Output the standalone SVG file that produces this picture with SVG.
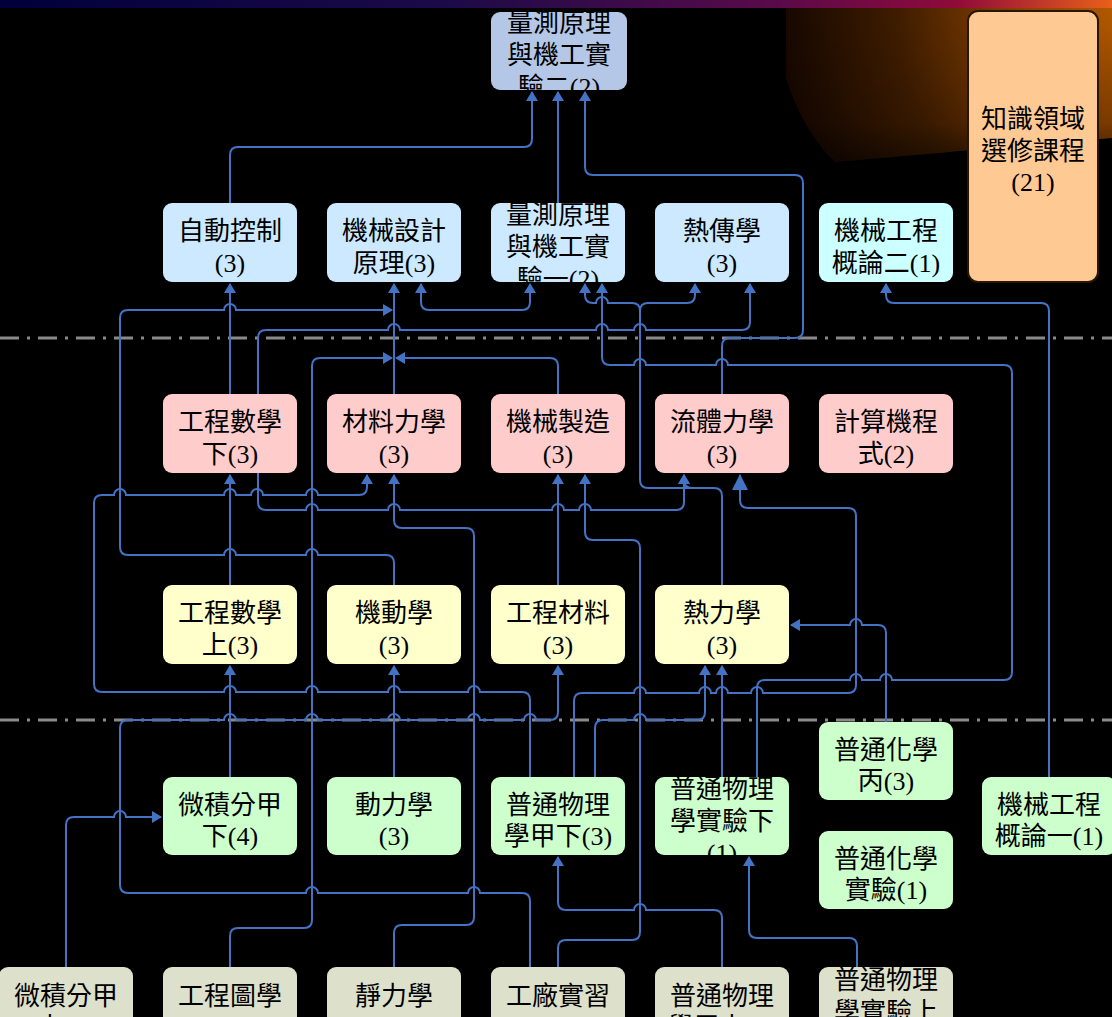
<svg xmlns="http://www.w3.org/2000/svg" width="1112" height="1017" viewBox="0 0 1112 1017">
<defs>
<linearGradient id="band" x1="0" y1="0" x2="1" y2="0">
<stop offset="0" stop-color="#00003a"/>
<stop offset="0.4" stop-color="#1c0a48"/>
<stop offset="0.7" stop-color="#5a0a4a"/>
<stop offset="0.86" stop-color="#900a3a"/>
<stop offset="1" stop-color="#e8601a"/>
</linearGradient>
<radialGradient id="glow" gradientUnits="userSpaceOnUse" cx="1130" cy="10" r="360">
<stop offset="0" stop-color="#b85c00"/>
<stop offset="0.3" stop-color="#8a4200"/>
<stop offset="0.65" stop-color="#3e1c00"/>
<stop offset="1" stop-color="#120500"/>
</radialGradient>
<linearGradient id="fade" x1="0" y1="0" x2="0" y2="1">
<stop offset="0" stop-color="#000" stop-opacity="0"/>
<stop offset="0.75" stop-color="#000" stop-opacity="0.1"/>
<stop offset="1" stop-color="#000" stop-opacity="0.45"/>
</linearGradient>
<marker id="ar" viewBox="0 0 10 12" markerWidth="10" markerHeight="12" refX="9" refY="6" orient="auto-start-reverse" markerUnits="userSpaceOnUse"><path d="M0,0 L10,6 L0,12 z" fill="#4472c4"/></marker>
<marker id="big" viewBox="0 0 16 16" markerWidth="16" markerHeight="16" refX="15" refY="8" orient="auto" markerUnits="userSpaceOnUse"><path d="M0,0 L16,8 L0,16 z" fill="#4472c4"/></marker>
<clipPath id="k-q2"><rect x="491" y="12" width="136" height="78" rx="9"/></clipPath>
<clipPath id="k-q1"><rect x="491" y="203" width="134" height="79" rx="9"/></clipPath>
<clipPath id="k-pl2"><rect x="655" y="777" width="134" height="78" rx="9"/></clipPath>
<clipPath id="k-pl1"><rect x="819" y="967" width="134" height="80" rx="9"/></clipPath>
<style>
.n rect{stroke:none}
.n text{font-family:"Liberation Serif","Noto Sans CJK TC",serif;font-size:26px;text-anchor:middle;fill:#000}
.c path{fill:none;stroke:#4472c4;stroke-width:2;marker-end:url(#ar)}
.c path.bg{marker-end:url(#big)}
.c path.both{marker-start:url(#ar)}
.dv{stroke:#8a8a8a;stroke-width:3;stroke-dasharray:19 8 3 8}
.r1{fill:#cce9ff}.r2{fill:#ffcccc}.r3{fill:#ffffcc}.r4{fill:#ccffcc}.r5{fill:#dde0cb}
</style>
</defs>
<rect x="0" y="0" width="1112" height="1017" fill="#000"/>
<path d="M786,8 H1112 V138 C1010,146 910,156 835,162 C812,140 796,110 786,78 Z" fill="url(#glow)"/>
<path d="M786,8 H1112 V138 C1010,146 910,156 835,162 C812,140 796,110 786,78 Z" fill="url(#fade)"/>
<rect x="0" y="0" width="1112" height="8" fill="url(#band)"/>
<line class="dv" x1="0" y1="338" x2="1112" y2="338"/>
<line class="dv" x1="0" y1="720" x2="1112" y2="720"/>

<g id="connectors" class="c">
<path d="M230,203 V155 Q230,147 238,147 H524 Q532,147 532,139 V92"/>
<path d="M558,203 V92"/>
<path d="M722,394 V346 Q722,338 730,338 H795 Q803,338 803,330 V183 Q803,175 795,175 H593 Q585,175 585,167 V92"/>
<path d="M230,394 V284"/>
<path d="M394,394 V284"/>
<path class="both" d="M421,284 V302 Q421,310 429,310 H522 Q530,310 530,302 V284"/>
<path d="M394,585 V563 Q394,555 386,555 H318 A6,6 0 0 0 306,555 H236 A6,6 0 0 0 224,555 H128 Q120,555 120,547 V318 Q120,310 128,310 H224 A6,6 0 0 1 236,310 H392"/>
<path d="M558,394 V366 Q558,358 550,358 H396"/>
<path d="M230,967 V936 Q230,928 238,928 H304 Q312,928 312,920 V366 Q312,358 320,358 H392"/>
<path d="M258,394 V338 Q258,330 266,330 H388 A6,6 0 0 1 400,330 H596 A6,6 0 0 1 608,330 H634 A6,6 0 0 1 646,330 H742 Q750,330 750,322 V284"/>
<path d="M722,585 V496 Q722,488 714,488 H692 Q684,488 684,480 V475"/>
<path d="M700,488 H648 Q640,488 640,480 V311 Q640,303 632,303 H608 A6,6 0 0 0 596,303 H593 Q585,303 585,295 V284"/>
<path d="M640,318 V311 Q640,303 648,303 H687 Q695,303 695,295 V284"/>
<path d="M258,473 V502 Q258,510 266,510 H306 A6,6 0 0 1 318,510 H388 A6,6 0 0 1 400,510 H552 A6,6 0 0 1 564,510 H579 A6,6 0 0 1 591,510 H676 Q684,510 684,502 V475"/>
<path class="bg" d="M574,777 V701 Q574,693 582,693 H634 A6,6 0 0 1 646,693 H699 A6,6 0 0 1 711,693 H716 A6,6 0 0 1 728,693 H751 A6,6 0 0 1 763,693 H848 Q856,693 856,685 V516 Q856,508 848,508 H748 Q740,508 740,500 V475"/>
<path d="M595,777 V728 Q595,720 603,720 H634 A6,6 0 0 1 646,720 H697 Q705,720 705,712 V666"/>
<path d="M530,777 V700 Q530,692 522,692 H480 A6,6 0 0 0 468,692 H400 A6,6 0 0 0 388,692 H318 A6,6 0 0 0 306,692 H236 A6,6 0 0 0 224,692 H102 Q94,692 94,684 V503 Q94,495 102,495 H114 A6,6 0 0 1 126,495 H224 A6,6 0 0 1 236,495 H251 A6,6 0 0 1 263,495 H306 A6,6 0 0 1 318,495 H359 Q367,495 367,487 V475"/>
<path d="M722,777 V666"/>
<path d="M757,777 V688 Q757,680 765,680 H850 A6,6 0 0 1 862,680 H880 A6,6 0 0 1 892,680 H1004 Q1012,680 1012,672 V373 Q1012,365 1004,365 H728 A6,6 0 0 0 716,365 H646 A6,6 0 0 0 634,365 H610 Q602,365 602,357 V284"/>
<path d="M886,722 V633 Q886,625 878,625 H862 A6,6 0 0 0 850,625 H791"/>
<path d="M1049,777 V311 Q1049,303 1041,303 H894 Q886,303 886,295 V284"/>
<path d="M230,585 V475"/>
<path d="M558,585 V475"/>
<path d="M558,967 V948 Q558,940 566,940 H632 Q640,940 640,932 V548 Q640,540 632,540 H593 Q585,540 585,532 V475"/>
<path d="M394,967 V933 Q394,925 402,925 H466 Q474,925 474,917 V536 Q474,528 466,528 H402 Q394,528 394,520 V475"/>
<path d="M394,777 V666"/>
<path d="M230,777 V666"/>
<path d="M530,967 V901 Q530,893 522,893 H480 A6,6 0 0 0 468,893 H318 A6,6 0 0 0 306,893 H128 Q120,893 120,885 V728 Q120,720 128,720 H224 A6,6 0 0 1 236,720 H306 A6,6 0 0 1 318,720 H388 A6,6 0 0 1 400,720 H468 A6,6 0 0 1 480,720 H524 A6,6 0 0 1 536,720 H550 Q558,720 558,712 V666"/>
<path d="M722,967 V918 Q722,910 714,910 H646 A6,6 0 0 0 634,910 H566 Q558,910 558,902 V857"/>
<path d="M857,967 V946 Q857,938 849,938 H757 Q749,938 749,930 V857"/>
<path d="M66,967 V825 Q66,817 74,817 H114 A6,6 0 0 1 126,817 H161"/>
</g>

<g id="q2" class="n"><rect x="491" y="12" width="136" height="78" rx="9" fill="#b4c7e7"/><g clip-path="url(#k-q2)"><text x="559" y="31.5">量測原理</text><text x="559" y="63.5">與機工實</text><text x="559" y="95.5">驗二(2)</text></g></g>
<g id="ac" class="n"><rect class="r1" x="163" y="203" width="134" height="79" rx="9"/><text x="230" y="240">自動控制</text><text x="230" y="271.5">(3)</text></g>
<g id="md" class="n"><rect class="r1" x="327" y="203" width="134" height="79" rx="9"/><text x="394" y="240">機械設計</text><text x="394" y="271.5">原理(3)</text></g>
<g id="q1" class="n"><rect class="r1" x="491" y="203" width="134" height="79" rx="9"/><g clip-path="url(#k-q1)"><text x="558" y="224">量測原理</text><text x="558" y="256">與機工實</text><text x="558" y="288">驗一(2)</text></g></g>
<g id="ht" class="n"><rect class="r1" x="655" y="203" width="134" height="79" rx="9"/><text x="722" y="240">熱傳學</text><text x="722" y="271.5">(3)</text></g>
<g id="me2" class="n"><rect x="819" y="203" width="134" height="79" rx="9" fill="#ccffff"/><text x="886" y="240">機械工程</text><text x="886" y="271.5">概論二(1)</text></g>
<g id="kn" class="n"><rect x="968" y="11" width="130" height="271" rx="10" fill="#ffc993" style="stroke:#2a1500;stroke-width:2"/><text x="1033" y="128">知識領域</text><text x="1033" y="160">選修課程</text><text x="1033" y="191">(21)</text></g>

<g id="em2" class="n"><rect class="r2" x="163" y="394" width="134" height="79" rx="9"/><text x="230" y="431">工程數學</text><text x="230" y="462.5">下(3)</text></g>
<g id="mom" class="n"><rect class="r2" x="327" y="394" width="134" height="79" rx="9"/><text x="394" y="431">材料力學</text><text x="394" y="462.5">(3)</text></g>
<g id="mfg" class="n"><rect class="r2" x="491" y="394" width="134" height="79" rx="9"/><text x="558" y="431">機械製造</text><text x="558" y="462.5">(3)</text></g>
<g id="fm" class="n"><rect class="r2" x="655" y="394" width="134" height="79" rx="9"/><text x="722" y="431">流體力學</text><text x="722" y="462.5">(3)</text></g>
<g id="cp" class="n"><rect class="r2" x="819" y="394" width="134" height="79" rx="9"/><text x="886" y="431">計算機程</text><text x="886" y="462.5">式(2)</text></g>

<g id="em1" class="n"><rect class="r3" x="163" y="585" width="134" height="79" rx="9"/><text x="230" y="622">工程數學</text><text x="230" y="653.5">上(3)</text></g>
<g id="kin" class="n"><rect class="r3" x="327" y="585" width="134" height="79" rx="9"/><text x="394" y="622">機動學</text><text x="394" y="653.5">(3)</text></g>
<g id="mat" class="n"><rect class="r3" x="491" y="585" width="134" height="79" rx="9"/><text x="558" y="622">工程材料</text><text x="558" y="653.5">(3)</text></g>
<g id="td" class="n"><rect class="r3" x="655" y="585" width="134" height="79" rx="9"/><text x="722" y="622">熱力學</text><text x="722" y="653.5">(3)</text></g>

<g id="calc2" class="n"><rect class="r4" x="163" y="777" width="134" height="78" rx="9"/><text x="230" y="813.5">微積分甲</text><text x="230" y="845">下(4)</text></g>
<g id="dyn" class="n"><rect class="r4" x="327" y="777" width="134" height="78" rx="9"/><text x="394" y="813.5">動力學</text><text x="394" y="845">(3)</text></g>
<g id="ph2" class="n"><rect class="r4" x="491" y="777" width="134" height="78" rx="9"/><text x="558" y="813.5">普通物理</text><text x="558" y="845">學甲下(3)</text></g>
<g id="pl2" class="n"><rect class="r4" x="655" y="777" width="134" height="78" rx="9"/><g clip-path="url(#k-pl2)"><text x="722" y="797.5">普通物理</text><text x="722" y="829.5">學實驗下</text><text x="722" y="861.5">(1)</text></g></g>
<g id="ch" class="n"><rect class="r4" x="819" y="722" width="134" height="78" rx="9"/><text x="886" y="758.5">普通化學</text><text x="886" y="790">丙(3)</text></g>
<g id="chl" class="n"><rect class="r4" x="819" y="831" width="134" height="78" rx="9"/><text x="886" y="867.5">普通化學</text><text x="886" y="899">實驗(1)</text></g>
<g id="me1" class="n"><rect class="r4" x="982" y="777" width="134" height="78" rx="9"/><text x="1049" y="813.5">機械工程</text><text x="1049" y="845">概論一(1)</text></g>

<g id="calc1" class="n"><rect class="r5" x="-1" y="967" width="134" height="80" rx="9"/><text x="66" y="1004.5">微積分甲</text><text x="66" y="1036">上(4)</text></g>
<g id="dr" class="n"><rect class="r5" x="163" y="967" width="134" height="80" rx="9"/><text x="230" y="1004.5">工程圖學</text><text x="230" y="1036">(3)</text></g>
<g id="st" class="n"><rect class="r5" x="327" y="967" width="134" height="80" rx="9"/><text x="394" y="1004.5">靜力學</text><text x="394" y="1036">(3)</text></g>
<g id="ws" class="n"><rect class="r5" x="491" y="967" width="134" height="80" rx="9"/><text x="558" y="1004.5">工廠實習</text><text x="558" y="1036">(1)</text></g>
<g id="ph1" class="n"><rect class="r5" x="655" y="967" width="134" height="80" rx="9"/><text x="722" y="1004.5">普通物理</text><text x="722" y="1036">學甲上(3)</text></g>
<g id="pl1" class="n"><rect class="r5" x="819" y="967" width="134" height="80" rx="9"/><g clip-path="url(#k-pl1)"><text x="886" y="988.5">普通物理</text><text x="886" y="1020.5">學實驗上</text><text x="886" y="1052.5">(1)</text></g></g>
</svg>
